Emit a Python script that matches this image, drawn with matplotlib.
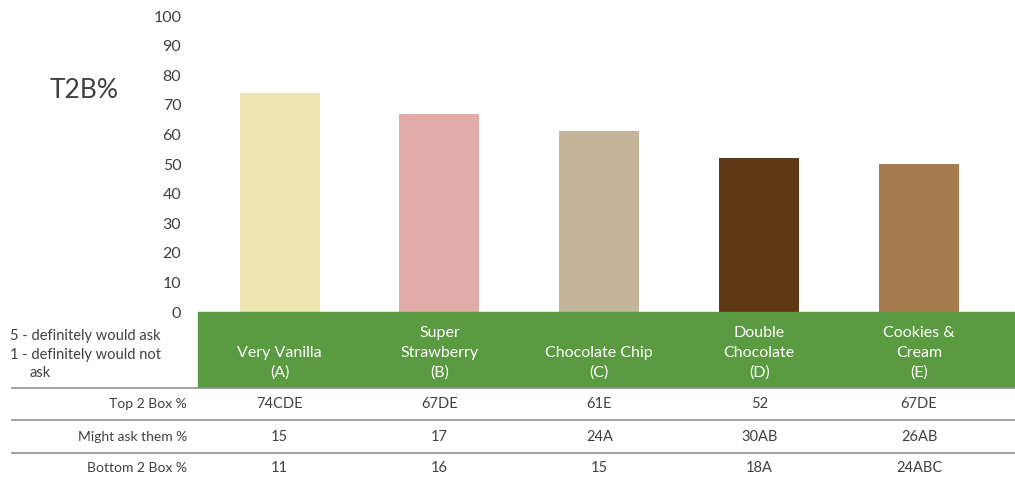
import matplotlib.pyplot as plt
from matplotlib.patches import Rectangle
import matplotlib.transforms as mtransforms

plt.rcParams['font.family'] = ['Lato', 'DejaVu Sans']

categories = ['Very Vanilla\n(A)', 'Super\nStrawberry\n(B)', 'Chocolate Chip\n(C)',
              'Double\nChocolate\n(D)', 'Cookies &\nCream\n(E)']
t2b_values = [74, 67, 61, 52, 50]
bar_colors = ['#efe5b0', '#e3aba8', '#c4b49b', '#603813', '#a67b50']

row_labels = ['Top 2 Box %', 'Might ask them %', 'Bottom 2 Box %']
top2_box = ['74CDE', '67DE', '61E', '52', '67DE']
might_ask = ['15', '17', '24A', '30AB', '26AB']
bottom2_box = ['11', '16', '15', '18A', '24ABC']

W, H = 1015, 483
fig = plt.figure(figsize=(W / 100, H / 100), dpi=100)

def fy(py):
    # pixel row (from top) -> figure fraction
    return 1 - py / H

ax = fig.add_axes([198 / W, fy(312), 1 - 198 / W, fy(16) - fy(312)])
x = list(range(len(categories)))
ax.bar(x, t2b_values, width=0.5, color=bar_colors)
ax.set_xlim(-0.51, 4.6)
ax.set_ylim(0, 100)
ax.set_yticks(range(0, 101, 10))
ax.set_xticks([])
ax.tick_params(axis='y', length=0, pad=12, labelsize=11.5, labelcolor='#404040')
for s in ax.spines.values():
    s.set_visible(False)

fig.text(50 / W, fy(90), 'T2B%', fontsize=19, color='#404040', va='center', ha='left')

# green header band under the bars
green = '#5a9a41'
fig.patches.append(Rectangle((198 / W, fy(387)), 1 - 198 / W, fy(312) - fy(387),
                             transform=fig.transFigure, color=green, zorder=0))

trans = mtransforms.blended_transform_factory(ax.transData, fig.transFigure)
for i, lab in enumerate(categories):
    fig.text(x[i], fy(380), lab, transform=trans, ha='center', va='bottom',
             color='white', fontsize=11.5, linespacing=1.5)

fig.text(10 / W, fy(336), '5 - definitely would ask', fontsize=10.5, color='#404040', va='center')
fig.text(10 / W, fy(355), '1 - definitely would not', fontsize=10.5, color='#404040', va='center')
fig.text(30 / W, fy(373), 'ask', fontsize=10.5, color='#404040', va='center')

# separator lines
for py in [388, 420, 453]:
    fig.add_artist(plt.Line2D([12 / W, 1], [fy(py), fy(py)], transform=fig.transFigure,
                              color='#909090', linewidth=1.2))

rows = [top2_box, might_ask, bottom2_box]
row_y = [404, 437, 468]
for lab, vals, py in zip(row_labels, rows, row_y):
    fig.text(187 / W, fy(py), lab, ha='right', va='center', fontsize=10, color='#404040')
    for i, v in enumerate(vals):
        fig.text(x[i], fy(py), v, transform=trans, ha='center', va='center',
                 fontsize=10.5, color='#404040')

fig.savefig('out.png', dpi=100)
